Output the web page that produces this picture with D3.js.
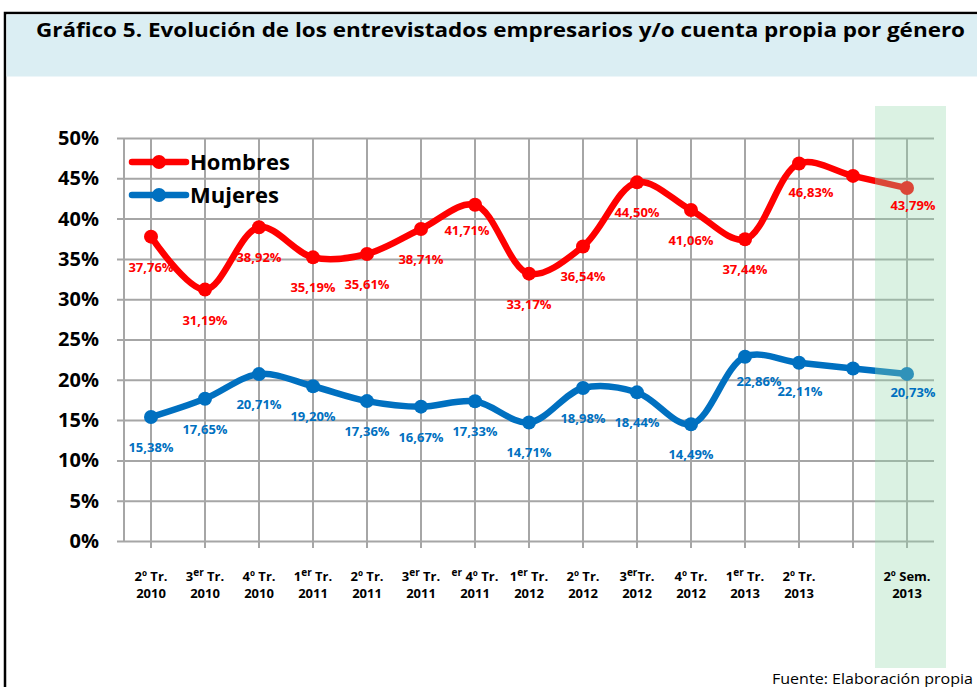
<!DOCTYPE html>
<html>
<head>
<meta charset="utf-8">
<script src="https://cdn.jsdelivr.net/npm/d3@7"></script>
<style>
  body { margin: 0; background: #fff; }
  svg { display: block; font-family: "Open Sans", "Noto Sans", sans-serif; }
</style>
</head>
<body>
<script>
// data
const periodTop = ["2º Tr.", "3^er Tr.", "4º Tr.", "1^er Tr.", "2º Tr.", "3^er Tr.", "^er 4º Tr.",
                   "1^er Tr.", "2º Tr.", "3^erTr.", "4º Tr.", "1^er Tr.", "2º Tr.", "", "2º Sem."];
const periodYear = ["2010", "2010", "2010", "2011", "2011", "2011", "2011",
                    "2012", "2012", "2012", "2012", "2013", "2013", "", "2013"];
const hombres = [37.76, 31.19, 38.92, 35.19, 35.61, 38.71, 41.71, 33.17, 36.54, 44.50, 41.06, 37.44, 46.83, 45.3, 43.79];
const mujeres = [15.38, 17.65, 20.71, 19.20, 17.36, 16.67, 17.33, 14.71, 18.98, 18.44, 14.49, 22.86, 22.11, 21.4, 20.73];
const showLabel = [1, 1, 1, 1, 1, 1, 1, 1, 1, 1, 1, 1, 1, 0, 1];
const yTicks = [0, 5, 10, 15, 20, 25, 30, 35, 40, 45, 50];

// label nudges (layout only)
const hombresShift = { 6: [-8, -5], 12: [12, -2], 14: [6, -13] };
const mujeresShift = { 11: [14, -6], 12: [1, -2], 14: [6, -12] };

const W = 977, H = 687;
const plot = { left: 124, right: 934, top: 138, bottom: 541 };

const svg = d3.select('body').append('svg')
    .attr('width', W)
    .attr('height', H);

// frame + title band
svg.append('rect')
    .attr('x', 5).attr('y', 13)
    .attr('width', 990).attr('height', 700)
    .attr('fill', '#fff')
    .attr('stroke', '#000')
    .attr('stroke-width', 2.5);

svg.append('rect')
    .attr('x', 6.5).attr('y', 14.5)
    .attr('width', 980).attr('height', 62)
    .attr('fill', '#DBEEF3');

svg.append('text')
    .attr('x', 36).attr('y', 37)
    .attr('textLength', 929)
    .attr('lengthAdjust', 'spacingAndGlyphs')
    .style('font-size', '19.5px')
    .style('font-weight', 700)
    .text('Gráfico 5. Evolución de los entrevistados empresarios y/o cuenta propia por género');

const x = d3.scaleBand()
    .domain(d3.range(hombres.length))
    .range([plot.left, plot.right]);
const xc = i => x(i) + x.bandwidth() / 2;

const y = d3.scaleLinear()
    .domain([0, 50])
    .range([plot.bottom, plot.top]);

// horizontal grid + y labels
const yAxis = d3.axisLeft(y)
    .tickValues(yTicks)
    .tickFormat(d => d + '%')
    .tickSize(plot.right - plot.left + 7)
    .tickPadding(18);

const gy = svg.append('g')
    .attr('transform', `translate(${plot.right},0)`)
    .call(yAxis);
gy.select('.domain').remove();
gy.selectAll('line').attr('stroke', '#A6A6A6').attr('stroke-width', 2);
gy.selectAll('text')
    .attr('fill', '#000')
    .style('font-size', '20px')
    .style('font-weight', 700)
    .style('font-family', '"Open Sans", sans-serif');

// vertical grid
const xAxis = d3.axisBottom(x)
    .tickFormat('')
    .tickSize(-(plot.bottom + 7 - plot.top))
    .tickSizeOuter(0);

const gx = svg.append('g')
    .attr('transform', `translate(0,${plot.bottom + 7})`)
    .call(xAxis);
gx.select('.domain').remove();
gx.selectAll('line').attr('stroke', '#A6A6A6').attr('stroke-width', 2);

svg.append('line')
    .attr('x1', plot.left).attr('x2', plot.left)
    .attr('y1', y(50)).attr('y2', y(0))
    .attr('stroke', '#A6A6A6').attr('stroke-width', 2);

// series
const series = [
    { name: 'Hombres', values: hombres, color: '#FF0000', shift: hombresShift },
    { name: 'Mujeres', values: mujeres, color: '#0070C0', shift: mujeresShift }
];

const line = d3.line()
    .x((d, i) => xc(i))
    .y(d => y(d))
    .curve(d3.curveCatmullRom.alpha(0.5));

series.forEach(s => {
    const g = svg.append('g');
    g.append('path')
        .datum(s.values)
        .attr('d', line)
        .attr('fill', 'none')
        .attr('stroke', s.color)
        .attr('stroke-width', 6.5)
        .attr('stroke-linejoin', 'round');
    g.selectAll('circle')
        .data(s.values)
        .join('circle')
        .attr('cx', (d, i) => xc(i))
        .attr('cy', d => y(d))
        .attr('r', 7)
        .attr('fill', s.color);
});

// highlighted last period
svg.append('rect')
    .attr('x', 875).attr('y', 106)
    .attr('width', 71).attr('height', 562)
    .attr('fill', 'rgb(146,215,170)')
    .attr('opacity', 0.33);

// data labels
series.forEach(s => {
    const pts = s.values.map((v, i) => ({ v, i })).filter(d => showLabel[d.i]);
    svg.append('g')
        .selectAll('text')
        .data(pts)
        .join('text')
        .attr('x', d => xc(d.i) + (s.shift[d.i] ? s.shift[d.i][0] : 0))
        .attr('y', d => y(d.v) + 35 + (s.shift[d.i] ? s.shift[d.i][1] : 0))
        .attr('text-anchor', 'middle')
        .attr('fill', s.color)
        .style('font-size', '13px')
        .style('font-weight', 700)
        .text(d => d3.format('.2f')(d.v).replace('.', ',') + '%');
});

// x tick labels, two lines, "^" marks a superscript
const xl = svg.append('g')
    .style('font-size', '13px')
    .style('font-weight', 700)
    .attr('text-anchor', 'middle');

periodTop.forEach((lab, i) => {
    const t = xl.append('text').attr('x', xc(i)).attr('y', 581);
    const m = lab.match(/^(.*?)\^er(.*)$/);
    if (m) {
        if (m[1]) t.append('tspan').text(m[1]);
        t.append('tspan').attr('dy', -5).style('font-size', '10px').text('er');
        t.append('tspan').attr('dy', 5).text(m[2]);
    } else {
        t.text(lab);
    }
    xl.append('text').attr('x', xc(i)).attr('y', 598).text(periodYear[i]);
});

// legend
const legend = svg.append('g');
series.forEach((s, k) => {
    const ly = 162 + k * 33;
    legend.append('line')
        .attr('x1', 132).attr('x2', 186)
        .attr('y1', ly).attr('y2', ly)
        .attr('stroke', s.color)
        .attr('stroke-width', 6.5)
        .attr('stroke-linecap', 'round');
    legend.append('circle')
        .attr('cx', 159).attr('cy', ly)
        .attr('r', 7)
        .attr('fill', s.color);
    legend.append('text')
        .attr('x', 190).attr('y', ly + 8)
        .style('font-size', '22px')
        .style('font-weight', 700)
        .text(s.name);
});

svg.append('text')
    .attr('x', 772).attr('y', 684)
    .attr('textLength', 201)
    .attr('lengthAdjust', 'spacingAndGlyphs')
    .style('font-size', '14px')
    .text('Fuente: Elaboración propia');
</script>
</body>
</html>
